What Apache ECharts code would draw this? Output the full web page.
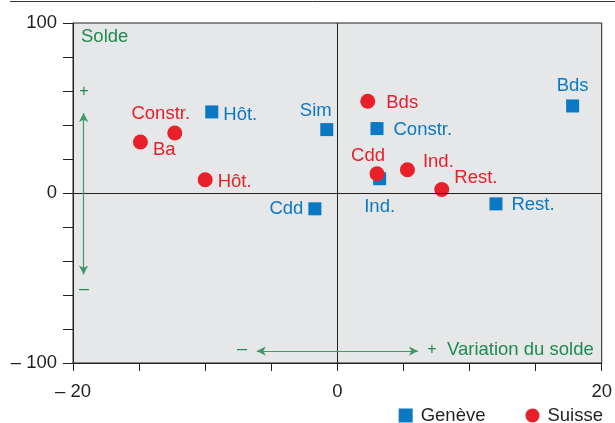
<!DOCTYPE html>
<html>
<head>
<meta charset="utf-8">
<script src="https://cdn.jsdelivr.net/npm/echarts@6/dist/echarts.min.js"></script>
<style>
  html, body { margin: 0; padding: 0; background: #fff; }
  #chart { width: 615px; height: 423px; }
</style>
</head>
<body>
<div id="chart"></div>
<script>
// Genève (carrés bleus)
var genevaNames = ['Hôt.', 'Sim', 'Constr.', 'Ind.', 'Cdd', 'Bds', 'Rest.'];
var genevaX = [-9.5, -0.8, 3.0, 3.2, -1.7, 17.8, 12.0];
var genevaY = [47.7, 37.3, 37.9, 8.4, -9.3, 51.2, -6.4];

// Suisse (ronds rouges)
var suisseNames = ['Constr.', 'Ba', 'Hôt.', 'Bds', 'Cdd', 'Ind.', 'Rest.'];
var suisseX = [-12.3, -14.9, -10.0, 2.3, 3.0, 5.3, 7.9];
var suisseY = [35.3, 30.0, 7.8, 54.0, 11.3, 13.7, 2.1];

// graduations
var xTickLabels = [-20, 0, 20];
var yTickLabels = [-100, 0, 100];

var BLUE = '#0a78c2';
var RED = '#e8202a';
var GREEN = '#1f8a4c';
var FONT = 'Liberation Sans';
var FS = 18.5;

// placement des étiquettes (position, distance, décalage)
var genevaLabelPos = {
    'Hôt.': ['right', 5, [0, 3]],
    'Sim': ['top', 3, [-11, 0]],
    'Constr.': ['right', 10, [0, 1]],
    'Ind.': ['bottom', 12, [0, 0]],
    'Cdd': ['left', 5, [0, 0]],
    'Bds': ['top', 4, [0, 0]],
    'Rest.': ['right', 9, [0, 1]]
};
var suisseLabelPos = {
    'Constr.': ['top', 2, [-14, 0]],
    'Ba': ['right', 5, [0, 8]],
    'Hôt.': ['right', 5, [0, 2]],
    'Bds': ['right', 11, [0, 2]],
    'Cdd': ['top', 1, [-9, 0]],
    'Ind.': ['right', 8, [0, -8]],
    'Rest.': ['right', 5, [0, -12]]
};

function buildPoints(names, xs, ys, pos, color) {
    return names.map(function (n, i) {
        var p = pos[n];
        return {
            name: n,
            value: [xs[i], ys[i]],
            label: {
                show: true,
                formatter: n,
                position: p[0],
                distance: p[1],
                offset: p[2],
                color: color,
                fontSize: FS,
                fontFamily: FONT
            }
        };
    });
}

function minusFmt(v) {
    return v < 0 ? '\u2013 ' + Math.abs(v) : String(v);
}

var chart = echarts.init(document.getElementById('chart'));

var option = {
    animation: false,
    textStyle: { fontFamily: FONT },
    grid: {
        left: 73, top: 23, width: 530, height: 340,
        show: true,
        backgroundColor: '#e6e7e9',
        borderColor: '#222',
        borderWidth: 1
    },
    legend: {
        right: 7,
        top: 401,
        itemWidth: 14,
        itemHeight: 14,
        itemGap: 40,
        textStyle: { fontSize: FS, color: '#231f20', fontFamily: FONT, padding: [0, 0, 0, 3] },
        data: [
            { name: 'Genève', icon: 'rect' },
            { name: 'Suisse', icon: 'circle' }
        ]
    },
    xAxis: {
        type: 'value',
        min: -20, max: 20, interval: 5,
        axisLine: { show: true, onZero: false, lineStyle: { color: '#222', width: 1 } },
        axisTick: { show: true, length: 8, lineStyle: { color: '#222' } },
        splitLine: { show: false },
        axisLabel: {
            fontSize: FS, color: '#231f20', margin: 19, fontFamily: FONT,
            formatter: function (v) {
                return xTickLabels.indexOf(v) >= 0 ? minusFmt(v) : '';
            }
        }
    },
    yAxis: {
        type: 'value',
        min: -100, max: 100, interval: 20,
        axisLine: { show: true, onZero: false, lineStyle: { color: '#222', width: 1 } },
        axisTick: { show: true, length: 10, lineStyle: { color: '#222' } },
        splitLine: { show: false },
        axisLabel: {
            fontSize: FS, color: '#231f20', margin: 16, fontFamily: FONT,
            formatter: function (v) {
                return yTickLabels.indexOf(v) >= 0 ? minusFmt(v) : '';
            }
        }
    },
    series: [
        {
            // axes du zéro
            type: 'scatter',
            data: [],
            silent: true,
            markLine: {
                silent: true,
                symbol: 'none',
                label: { show: false },
                lineStyle: { color: '#222', width: 1, type: 'solid' },
                data: [
                    { xAxis: 0 },
                    { yAxis: 0 }
                ]
            }
        },
        {
            // flèches d'annotation
            type: 'scatter',
            data: [],
            silent: true,
            markLine: {
                silent: true,
                symbol: ['arrow', 'arrow'],
                symbolSize: [7, 9],
                label: { show: false },
                lineStyle: { color: '#3d9a68', width: 1.2, type: 'solid', opacity: 1 },
                data: [
                    [{ coord: [-19.2, 47] }, { coord: [-19.2, -48] }],
                    [{ coord: [-6.1, -93] }, { coord: [6.1, -93] }]
                ]
            }
        },
        {
            name: 'Genève',
            type: 'scatter',
            symbol: 'rect',
            symbolSize: 13,
            itemStyle: { color: BLUE, opacity: 1 },
            data: buildPoints(genevaNames, genevaX, genevaY, genevaLabelPos, BLUE)
        },
        {
            name: 'Suisse',
            type: 'scatter',
            symbol: 'circle',
            symbolSize: 15,
            itemStyle: { color: RED, opacity: 1 },
            data: buildPoints(suisseNames, suisseX, suisseY, suisseLabelPos, RED)
        }
    ],
    graphic: [
        { type: 'line', shape: { x1: 10, y1: 1.5, x2: 615, y2: 1.5 }, style: { stroke: '#333', lineWidth: 1 }, silent: true },
        { type: 'text', left: 81, top: 27, style: { text: 'Solde', fill: GREEN, font: FS + 'px "Liberation Sans"' }, silent: true },
        { type: 'text', x: 84, y: 92, style: { text: '+', fill: GREEN, font: '16px "Liberation Sans"', textAlign: 'center', textVerticalAlign: 'middle' }, silent: true },
        { type: 'text', x: 84, y: 289, style: { text: '\u2013', fill: GREEN, font: '18px "Liberation Sans"', textAlign: 'center', textVerticalAlign: 'middle' }, silent: true },
        { type: 'text', x: 242, y: 349, style: { text: '\u2013', fill: GREEN, font: '18px "Liberation Sans"', textAlign: 'center', textVerticalAlign: 'middle' }, silent: true },
        { type: 'text', x: 432, y: 350, style: { text: '+', fill: GREEN, font: '16px "Liberation Sans"', textAlign: 'center', textVerticalAlign: 'middle' }, silent: true },
        { type: 'text', x: 447, y: 350, style: { text: 'Variation du solde', fill: GREEN, font: FS + 'px "Liberation Sans"', textAlign: 'left', textVerticalAlign: 'middle' }, silent: true }
    ]
};

chart.setOption(option);
</script>
</body>
</html>
